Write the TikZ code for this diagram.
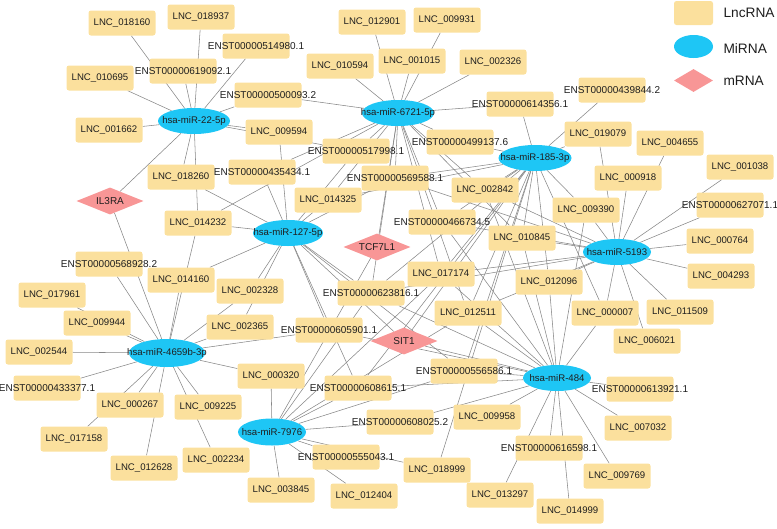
\documentclass[tikz,border=0pt]{standalone}
\usepackage{fontspec}
\setmainfont{Liberation Sans}
\usetikzlibrary{shapes.geometric}
\definecolor{lncfill}{RGB}{251,224,157}
\definecolor{mifill}{RGB}{30,198,245}
\definecolor{mrfill}{RGB}{248,150,150}
\definecolor{edgecol}{RGB}{135,135,135}
\definecolor{txt}{RGB}{30,30,30}
\pgfdeclarelayer{background}
\pgfsetlayers{background,main}
\tikzset{
  lnc/.style={rectangle,rounded corners=2.5pt,fill=lncfill,minimum width=67pt,minimum height=25pt,inner sep=0pt,text=txt,font=\fontsize{9.6}{11}\selectfont},
  enst/.style={lnc,font=\fontsize{10}{11}\selectfont},
  mir/.style={ellipse,fill=mifill,minimum width=71pt,minimum height=26pt,inner sep=0pt,text=txt,font=\fontsize{9.6}{11}\selectfont},
  mrna/.style={diamond,fill=mrfill,minimum width=67pt,minimum height=27pt,inner sep=0pt,text=txt,font=\fontsize{10}{11}\selectfont},
  edge/.style={draw=edgecol,line width=0.55pt},
  legtext/.style={anchor=west,text=txt,font=\fontsize{13.7}{15}\selectfont}
}
\newcommand{\zb}[1]{\makebox[0pt]{#1}}
\begin{document}
\begin{tikzpicture}[x=1pt,y=-1pt]
\useasboundingbox (0,0) rectangle (777,528);
% legend
\node[lnc,minimum width=39pt,minimum height=24pt] (legl) at (693.5,13) {};
\node[mir,minimum width=39pt,minimum height=23pt] (legm) at (693.5,46.5) {};
\node[mrna,minimum width=39pt,minimum height=23pt] (legr) at (693.5,80.5) {};
\node[legtext] (leglt) at (720,13) {LncRNA};
\node[legtext] (legmt) at (720,49) {MiRNA};
\node[legtext] (legrt) at (720,80.5) {mRNA};
% lncRNA nodes
\node[lnc] (a018160) at (122,23) {\zb{LNC\_018160}};
\node[lnc] (a018937) at (201,17) {\zb{LNC\_018937}};
\node[enst] (e514980) at (256,46) {\zb{ENST00000514980.1}};
\node[enst] (e619092) at (183,71) {\zb{ENST00000619092.1}};
\node[lnc] (a010695) at (100,78) {\zb{LNC\_010695}};
\node[lnc] (a001662) at (109,130) {\zb{LNC\_001662}};
\node[lnc] (a018260) at (181,177) {\zb{LNC\_018260}};
\node[enst] (e500093) at (268,95) {\zb{ENST00000500093.2}};
\node[lnc] (a009594) at (279,132) {\zb{LNC\_009594}};
\node[enst] (e435434) at (262,172) {\zb{ENST00000435434.1}};
\node[enst] (e517998) at (356,151) {\zb{ENST00000517998.1}};
\node[lnc] (a010594) at (340,66) {\zb{LNC\_010594}};
\node[lnc] (a012901) at (372,22) {\zb{LNC\_012901}};
\node[lnc] (a009931) at (447,20) {\zb{LNC\_009931}};
\node[lnc] (a001015) at (412,61) {\zb{LNC\_001015}};
\node[lnc] (a002326) at (493,62) {\zb{LNC\_002326}};
\node[enst] (e614356) at (520,104) {\zb{ENST00000614356.1}};
\node[enst] (e499137) at (460,142) {\zb{ENST00000499137.6}};
\node[enst] (e569588) at (395,178) {\zb{ENST00000569588.1}};
\node[enst] (e439844) at (612,90) {\zb{ENST00000439844.2}};
\node[lnc] (a019079) at (598,134) {\zb{LNC\_019079}};
\node[lnc] (a004655) at (670,143) {\zb{LNC\_004655}};
\node[lnc] (a001038) at (740,167) {\zb{LNC\_001038}};
\node[lnc] (a000918) at (628,178) {\zb{LNC\_000918}};
\node[lnc] (a009390) at (586,210) {\zb{LNC\_009390}};
\node[enst] (e627071) at (730,205) {\zb{ENST00000627071.1}};
\node[lnc] (a000764) at (720,241) {\zb{LNC\_000764}};
\node[lnc] (a004293) at (721,276) {\zb{LNC\_004293}};
\node[lnc] (a000007) at (605,313) {\zb{LNC\_000007}};
\node[lnc] (a011509) at (680,312) {\zb{LNC\_011509}};
\node[lnc] (a006021) at (647,341) {\zb{LNC\_006021}};
\node[lnc] (a012096) at (549,282) {\zb{LNC\_012096}};
\node[lnc] (a010845) at (522,238) {\zb{LNC\_010845}};
\node[lnc] (a002842) at (485,190) {\zb{LNC\_002842}};
\node[enst] (e466734) at (442,222) {\zb{ENST00000466734.5}};
\node[lnc] (a017174) at (441,274) {\zb{LNC\_017174}};
\node[lnc] (a012511) at (468,313) {\zb{LNC\_012511}};
\node[enst] (e568928) at (109,264) {\zb{ENST00000568928.2}};
\node[lnc] (a014232) at (198,223) {\zb{LNC\_014232}};
\node[lnc] (a014325) at (328,200) {\zb{LNC\_014325}};
\node[lnc] (a014160) at (181,280) {\zb{LNC\_014160}};
\node[lnc] (a002328) at (250,291) {\zb{LNC\_002328}};
\node[lnc] (a002365) at (240,327) {\zb{LNC\_002365}};
\node[enst] (e623816) at (371,293) {\zb{ENST00000623816.1}};
\node[enst] (e605901) at (329,330) {\zb{ENST00000605901.1}};
\node[lnc] (a017961) at (52,295) {\zb{LNC\_017961}};
\node[lnc] (a009944) at (97,323) {\zb{LNC\_009944}};
\node[lnc] (a002544) at (39,352) {\zb{LNC\_002544}};
\node[enst] (e433377) at (47,388) {\zb{ENST00000433377.1}};
\node[lnc] (a000267) at (130,405) {\zb{LNC\_000267}};
\node[lnc] (a017158) at (74,439) {\zb{LNC\_017158}};
\node[lnc] (a012628) at (144,468) {\zb{LNC\_012628}};
\node[lnc] (a009225) at (208,407) {\zb{LNC\_009225}};
\node[lnc] (a002234) at (216,460) {\zb{LNC\_002234}};
\node[lnc] (a000320) at (271,376) {\zb{LNC\_000320}};
\node[lnc] (a003845) at (281,490) {\zb{LNC\_003845}};
\node[lnc] (a012404) at (364,496) {\zb{LNC\_012404}};
\node[enst] (e555043) at (346,457) {\zb{ENST00000555043.1}};
\node[enst] (e608615) at (358,388) {\zb{ENST00000608615.1}};
\node[enst] (e608025) at (400,422) {\zb{ENST00000608025.2}};
\node[enst] (e556586) at (464,371) {\zb{ENST00000556586.1}};
\node[lnc] (a009958) at (487,417) {\zb{LNC\_009958}};
\node[lnc] (a018999) at (437,470) {\zb{LNC\_018999}};
\node[enst] (e616598) at (549,448) {\zb{ENST00000616598.1}};
\node[lnc] (a013297) at (500,495) {\zb{LNC\_013297}};
\node[lnc] (a014999) at (570,511) {\zb{LNC\_014999}};
\node[enst] (e613921) at (640,389) {\zb{ENST00000613921.1}};
\node[lnc] (a007032) at (638,428) {\zb{LNC\_007032}};
\node[lnc] (a009769) at (617,476) {\zb{LNC\_009769}};
% miRNA nodes
\node[mir,minimum width=72pt] (m22) at (194,121) {\zb{hsa-miR-22-5p}};
\node[mir,minimum width=72pt] (m6721) at (398,113) {\zb{hsa-miR-6721-5p}};
\node[mir,minimum width=73pt] (m185) at (535,158) {\zb{hsa-miR-185-3p}};
\node[mir,minimum width=70pt] (m127) at (288,233) {\zb{hsa-miR-127-5p}};
\node[mir,minimum width=68pt] (m5193) at (617,252) {\zb{hsa-miR-5193}};
\node[mir,minimum width=76pt,minimum height=28pt] (m4659) at (167,353) {\zb{hsa-miR-4659b-3p}};
\node[mir,minimum width=68pt,minimum height=27pt] (m7976) at (272,432) {\zb{hsa-miR-7976}};
\node[mir,minimum width=68pt] (m484) at (557,378) {\zb{hsa-miR-484}};
% mRNA nodes
\node[mrna] (il3ra) at (110,201) {\zb{IL3RA}};
\node[mrna] (tcf) at (377,247) {\zb{TCF7L1}};
\node[mrna] (sit1) at (404,341) {\zb{SIT1}};
% edges
\begin{pgfonlayer}{background}
\foreach \t in {a018160,a018937,e619092,e514980,a010695,a001662,e500093,a009594,e517998,a018260,a014232,il3ra}
  \draw[edge] (m22) -- (\t);
\foreach \t in {a012901,a009931,a001015,a002326,a010594,e500093,e614356,e499137,e517998,e435434,e569588,a014325,tcf,e466734,a002842,a017174,e623816,a012511,a010845,a014232}
  \draw[edge] (m6721) -- (\t);
\foreach \t in {e614356,e439844,a019079,e499137,a002842,e569588,e466734,a010845,a012096,a017174,a012511,e623816,e556586,a018999,e608615,a000007,a009390,a014325,sit1}
  \draw[edge] (m185) -- (\t);
\foreach \t in {a000918,a019079,a004655,a001038,e627071,a000764,a004293,a011509,a006021,a000007,a009390,a012096,a010845,a002842,a017174,e466734,e569588,a012511,e623816}
  \draw[edge] (m5193) -- (\t);
\foreach \t in {a018260,a014232,a014160,a002328,a002365,e435434,a009594,a014325,e517998,e569588,e623816,e605901,e608615,e556586,sit1}
  \draw[edge] (m127) -- (\t);
\foreach \t in {e568928,il3ra,a014160,a014232,a017961,a009944,a002544,e433377,a000267,a017158,a012628,a009225,a002234,a000320,a002365,a002328,e605901}
  \draw[edge] (m4659) -- (\t);
\foreach \t in {a000320,a003845,a012404,e555043,e608025,e608615,e623816,a017174,a018999,e556586,a012511,tcf}
  \draw[edge] (m7976) -- (\t);
\foreach \t in {e613921,a007032,a009769,a014999,a013297,e616598,a009958,e556586,e608615,e608025,a012096,a010845,a002842,a012511,a017174,e466734,a000007,a009390,e623816,e605901,sit1}
  \draw[edge] (m484) -- (\t);
\end{pgfonlayer}
\end{tikzpicture}
\end{document}
